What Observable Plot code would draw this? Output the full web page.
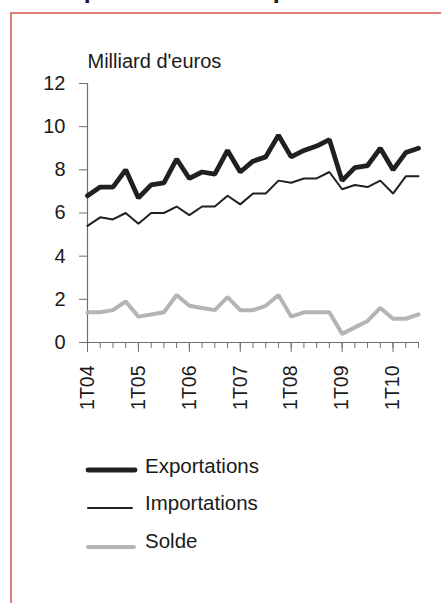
<!DOCTYPE html>
<html><head><meta charset="utf-8">
<script src="https://cdn.jsdelivr.net/npm/d3@7"></script>
<script src="https://cdn.jsdelivr.net/npm/@observablehq/plot@0.6"></script>
<style>
body{margin:0;background:#fff;font-family:"Liberation Sans",Arial,sans-serif;}
#wrap{position:relative;width:441px;height:603px;overflow:hidden;background:#fff;}
#frame{position:absolute;left:10px;top:12px;width:440px;height:600px;border-top:2px solid #dc7d7a;border-left:2px solid #dc7d7a;}
#chart{position:absolute;left:0;top:0;}
#overlay{position:absolute;left:0;top:0;}
</style></head><body>
<div id="wrap"><div id="frame"></div><div id="chart"></div><svg id="overlay" width="441" height="603"></svg></div>
<script>
const quarters = ["1T04","2T04","3T04","4T04","1T05","2T05","3T05","4T05","1T06","2T06","3T06","4T06","1T07","2T07","3T07","4T07","1T08","2T08","3T08","4T08","1T09","2T09","3T09","4T09","1T10","2T10","3T10"];
const exportations = [6.8,7.2,7.2,8.0,6.7,7.3,7.4,8.5,7.6,7.9,7.8,8.9,7.9,8.4,8.6,9.6,8.6,8.9,9.1,9.4,7.5,8.1,8.2,9.0,8.0,8.8,9.0];
const importations = [5.4,5.8,5.7,6.0,5.5,6.0,6.0,6.3,5.9,6.3,6.3,6.8,6.4,6.9,6.9,7.5,7.4,7.6,7.6,7.9,7.1,7.3,7.2,7.5,6.9,7.7,7.7];
const solde = [1.4,1.4,1.5,1.9,1.2,1.3,1.4,2.2,1.7,1.6,1.5,2.1,1.5,1.5,1.7,2.2,1.2,1.4,1.4,1.4,0.4,0.7,1.0,1.6,1.1,1.1,1.3];
const yTicks = [0,2,4,6,8,10,12];
const yearTicks = ["1T04","1T05","1T06","1T07","1T08","1T09","1T10"];
const unitLabel = "Milliard d'euros";
const titleText = "Exportations et importations";
const seriesNames = ["Exportations","Importations","Solde"];

const data = quarters.map((q,i)=>({i, q, exp:exportations[i], imp:importations[i], sol:solde[i]}));
const allIdx = quarters.map((q,i)=>i);
const yearIdx = yearTicks.map(q=>quarters.indexOf(q));
const axisColor = "#6e6e6e";
const textColor = "#1a1a1a";

const chart = Plot.plot({
  width: 441, height: 420,
  marginLeft: 87, marginRight: 23, marginTop: 83, marginBottom: 78,
  style: {fontFamily: '"Liberation Sans", Arial, sans-serif', color: textColor, background: "transparent"},
  x: {type: "linear", domain: [0, quarters.length - 1], axis: null},
  y: {domain: [0, 12], axis: null},
  marks: [
    Plot.ruleX([0], {stroke: axisColor, strokeWidth: 1.2}),
    Plot.ruleY([0], {stroke: axisColor, strokeWidth: 1.2}),
    Plot.axisY({ticks: yTicks, tickSize: 8, tickPadding: 14, stroke: axisColor, fill: textColor, fontSize: 20, label: null}),
    Plot.axisX({ticks: allIdx, tickSize: 6, tickFormat: () => "", stroke: axisColor, label: null}),
    Plot.axisX({ticks: yearIdx, tickSize: 10, tickPadding: 13, tickRotate: -90, tickFormat: i => quarters[i], stroke: axisColor, fill: textColor, fontSize: 19.5, label: null}),
    Plot.lineY(data, {x: "i", y: "sol", stroke: "#b4b4b4", strokeWidth: 4, strokeLinejoin: "miter"}),
    Plot.lineY(data, {x: "i", y: "imp", stroke: "#231f20", strokeWidth: 2, strokeLinejoin: "miter"}),
    Plot.lineY(data, {x: "i", y: "exp", stroke: "#231f20", strokeWidth: 4.8, strokeLinejoin: "miter"}),
    Plot.text([unitLabel], {frameAnchor: "top-left", textAnchor: "start", lineAnchor: "middle", dy: -22, fontSize: 20, fill: textColor})
  ]
});
document.getElementById("chart").appendChild(chart);

// Title (cut off at the top in the reference) and legend
const ov = d3.select("#overlay");
ov.append("text").attr("x", 53).attr("y", -2)
  .attr("font-family", '"Liberation Sans", Arial, sans-serif')
  .attr("font-weight", "bold").attr("font-size", 25.2).attr("fill", textColor).text(titleText);

const legend = [
  {name: seriesNames[0], stroke: "#231f20", w: 4.8, x2: 135, ly: 470, ty: 466},
  {name: seriesNames[1], stroke: "#231f20", w: 2, x2: 132, ly: 508, ty: 503},
  {name: seriesNames[2], stroke: "#b4b4b4", w: 4, x2: 134, ly: 547, ty: 541}
];
const g = ov.append("g");
legend.forEach(d => {
  g.append("line").attr("x1", 88).attr("x2", d.x2).attr("y1", d.ly).attr("y2", d.ly)
    .attr("stroke", d.stroke).attr("stroke-width", d.w).attr("stroke-linecap", "round");
  g.append("text").attr("x", 145).attr("y", d.ty).attr("dy", "0.36em")
    .attr("font-family", '"Liberation Sans", Arial, sans-serif').attr("font-size", 20.5)
    .attr("fill", textColor).text(d.name);
});
</script>
</body></html>
